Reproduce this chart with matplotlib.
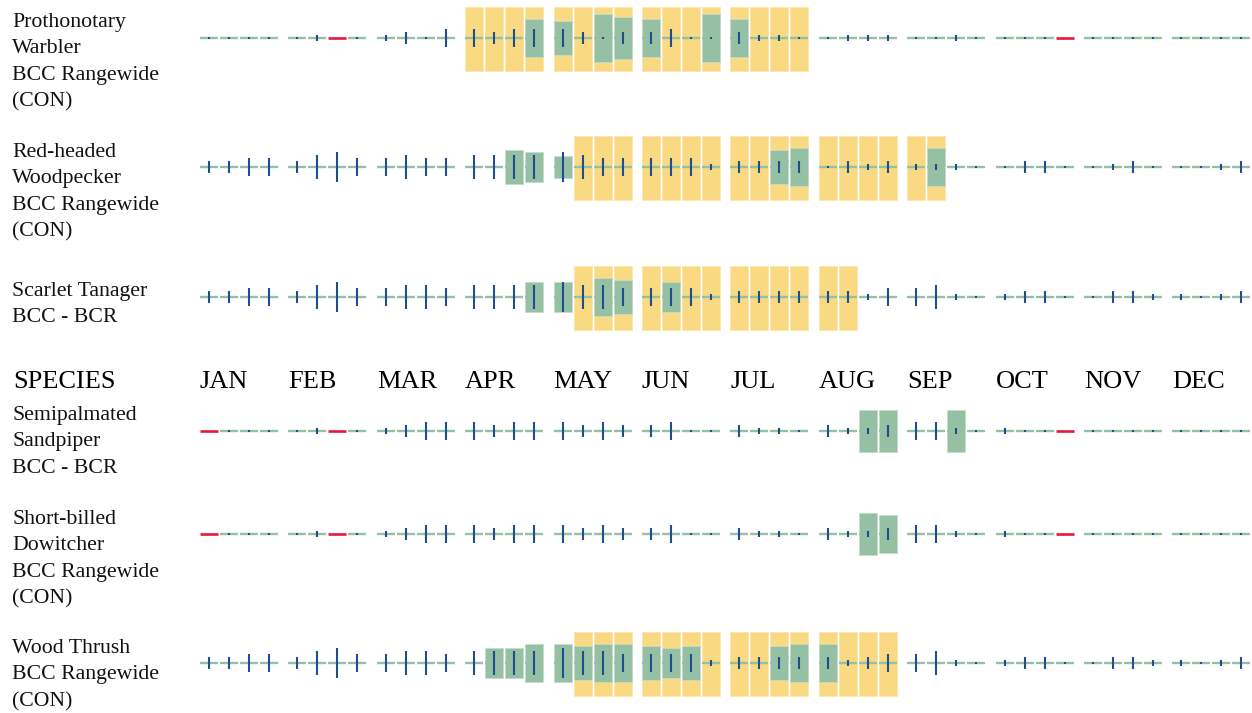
import numpy as np
import matplotlib
matplotlib.use("Agg")
import matplotlib.pyplot as plt

# ---- data -----------------------------------------------------------------
months = ["JAN", "FEB", "MAR", "APR", "MAY", "JUN",
          "JUL", "AUG", "SEP", "OCT", "NOV", "DEC"]

species = [
    "Prothonotary\nWarbler\nBCC Rangewide\n(CON)",
    "Red-headed\nWoodpecker\nBCC Rangewide\n(CON)",
    "Scarlet Tanager\nBCC - BCR",
    "Semipalmated\nSandpiper\nBCC - BCR",
    "Short-billed\nDowitcher\nBCC Rangewide\n(CON)",
    "Wood Thrush\nBCC Rangewide\n(CON)",
]

# breeding season, first and last week index (0..47), None = not breeding here
breeding = [(12, 27), (17, 33), (17, 29), None, None, (17, 31)]

# probability of presence per week (share of the band height)
presence = [
    [0, 0, 0, 0,  0, 0, 0, 0,  0, 0, 0, 0,  0, 0, 0, .59,  .53, 0, .75, .66,
     .59, 0, 0, .75,  .59, 0, 0, 0,  0, 0, 0, 0,  0, 0, 0, 0,  0, 0, 0, 0,
     0, 0, 0, 0,  0, 0, 0, 0],
    [0, 0, 0, 0,  0, 0, 0, 0,  0, 0, 0, 0,  0, 0, .53, .47,  .34, 0, 0, 0,
     0, 0, 0, 0,  0, 0, .53, .59,  0, 0, 0, 0,  0, .59, 0, 0,  0, 0, 0, 0,
     0, 0, 0, 0,  0, 0, 0, 0],
    [0, 0, 0, 0,  0, 0, 0, 0,  0, 0, 0, 0,  0, 0, 0, .48,  .48, 0, .59, .53,
     0, .47, 0, 0,  0, 0, 0, 0,  0, 0, 0, 0,  0, 0, 0, 0,  0, 0, 0, 0,
     0, 0, 0, 0,  0, 0, 0, 0],
    [0, 0, 0, 0,  0, 0, 0, 0,  0, 0, 0, 0,  0, 0, 0, 0,  0, 0, 0, 0,
     0, 0, 0, 0,  0, 0, 0, 0,  0, 0, .66, .66,  0, 0, .66, 0,  0, 0, 0, 0,
     0, 0, 0, 0,  0, 0, 0, 0],
    [0, 0, 0, 0,  0, 0, 0, 0,  0, 0, 0, 0,  0, 0, 0, 0,  0, 0, 0, 0,
     0, 0, 0, 0,  0, 0, 0, 0,  0, 0, .66, .59,  0, 0, 0, 0,  0, 0, 0, 0,
     0, 0, 0, 0,  0, 0, 0, 0],
    [0, 0, 0, 0,  0, 0, 0, 0,  0, 0, 0, 0,  0, .47, .47, .59,  .59, .53, .59, .59,
     .53, .47, .53, 0,  0, 0, .53, .59,  .59, 0, 0, 0,  0, 0, 0, 0,  0, 0, 0, 0,
     0, 0, 0, 0,  0, 0, 0, 0],
]

# survey effort level per week (0 = very low), None = no data
N = None
effort = [
    [0, 0, 0, 0,  0, 1, N, 0,  1, 2, 0, 3,  3, 2, 3, 3,  3, 2, 0, 2,  2, 3, 0, 0,
     2, 1, 1, 0,  0, 1, 1, 1,  0, 0, 1, 0,  0, 0, 0, N,  0, 0, 0, 0,  0, 0, 0, 0],
    [2, 2, 3, 3,  2, 4, 5, 3,  3, 4, 3, 3,  4, 4, 4, 4,  5, 4, 3, 3,  3, 3, 3, 1,
     2, 2, 2, 2,  0, 2, 1, 2,  1, 1, 1, 0,  0, 2, 2, 0,  0, 1, 2, 0,  0, 0, 1, 2],
    [2, 2, 3, 3,  2, 4, 5, 3,  3, 4, 4, 3,  4, 4, 4, 4,  5, 4, 4, 3,  3, 3, 3, 1,
     2, 2, 2, 2,  2, 2, 1, 3,  3, 4, 1, 0,  1, 2, 2, 0,  0, 2, 2, 1,  1, 0, 1, 2],
    [N, 0, 0, 0,  0, 1, N, 0,  1, 2, 3, 3,  3, 2, 3, 3,  3, 2, 3, 2,  2, 3, 0, 0,
     2, 1, 1, 0,  2, 1, 1, 2,  3, 3, 1, 0,  1, 0, 0, N,  0, 0, 0, 0,  0, 0, 0, 0],
    [N, 0, 0, 0,  0, 1, N, 0,  1, 2, 3, 3,  3, 2, 3, 3,  3, 2, 3, 2,  2, 3, 0, 0,
     2, 1, 1, 0,  2, 1, 1, 2,  3, 3, 1, 0,  1, 0, 0, N,  0, 0, 0, 0,  0, 0, 0, 0],
    [2, 2, 3, 3,  2, 4, 5, 3,  3, 4, 4, 3,  4, 4, 4, 4,  5, 4, 4, 3,  3, 3, 3, 1,
     2, 2, 2, 2,  2, 1, 2, 3,  3, 4, 1, 0,  1, 2, 2, 0,  0, 2, 2, 1,  1, 0, 1, 2],
]

# ---- layout / style -------------------------------------------------------
W, H = 1252, 713
X0, MONTH_STEP, WEEK_STEP, CELL_W = 200, 88.4, 20, 18
BAND = 64
row_y = [38, 167, 297, 431, 534, 663]
label_top = [13, 143, 282, 406, 510, 639]
header_y = 388

YELLOW = "#f9d981"
GREEN = "#95c0a4"
BLUE = "#1f4e8d"
RED = "#e5193d"
FONT = "Liberation Serif"

fig = plt.figure(figsize=(W / 100, H / 100), dpi=100)
ax = fig.add_axes([0, 0, 1, 1])
ax.set_xlim(0, W)
ax.set_ylim(H, 0)
ax.axis("off")

weeks = np.arange(48)
cell_x = X0 + (weeks // 4) * MONTH_STEP + (weeks % 4) * WEEK_STEP
tick_x = cell_x + CELL_W / 2

for r, yc in enumerate(row_y):
    # breeding season band
    if breeding[r] is not None:
        a, b = breeding[r]
        sel = (weeks >= a) & (weeks <= b)
        ax.bar(cell_x[sel], BAND, width=CELL_W, bottom=yc - BAND / 2 + 0.5,
               align="edge", color=YELLOW, edgecolor="#fbe6ad", linewidth=0.6, zorder=1)

    # probability of presence
    p = np.array(presence[r], dtype=float)
    sel = p > 0
    ax.bar(cell_x[sel], p[sel] * BAND, width=CELL_W, bottom=yc - p[sel] * BAND / 2,
           align="edge", color=GREEN, edgecolor="#c4dccc", linewidth=0.6, zorder=2)

    eff = effort[r]
    has = np.array([e is not None for e in eff])
    lev = np.array([e if e is not None else 0 for e in eff], dtype=float)

    # week line: green with data, red without
    ax.hlines(np.full(has.sum(), yc), cell_x[has], cell_x[has] + CELL_W,
              color=GREEN, linewidth=1.7, zorder=3)
    ax.hlines(np.full((~has).sum(), yc), cell_x[~has], cell_x[~has] + CELL_W,
              color=RED, linewidth=1.9, zorder=3)

    # survey effort ticks
    h = np.maximum(lev * 6.1, 2.6)
    ax.vlines(tick_x[has], yc - h[has] / 2, yc + h[has] / 2,
              color=BLUE, linewidth=1.5, zorder=4)

    ax.text(12, label_top[r], species[r], fontsize=15.7, family=FONT,
            va="top", ha="left", linespacing=1.53, color="#111111")

# header row
ax.text(13, header_y, "SPECIES", fontsize=19, family=FONT, va="baseline", ha="left")
for m, name in enumerate(months):
    ax.text(X0 + m * MONTH_STEP, header_y, name, fontsize=19, family=FONT,
            va="baseline", ha="left")

fig.savefig("out.png", dpi=100)
